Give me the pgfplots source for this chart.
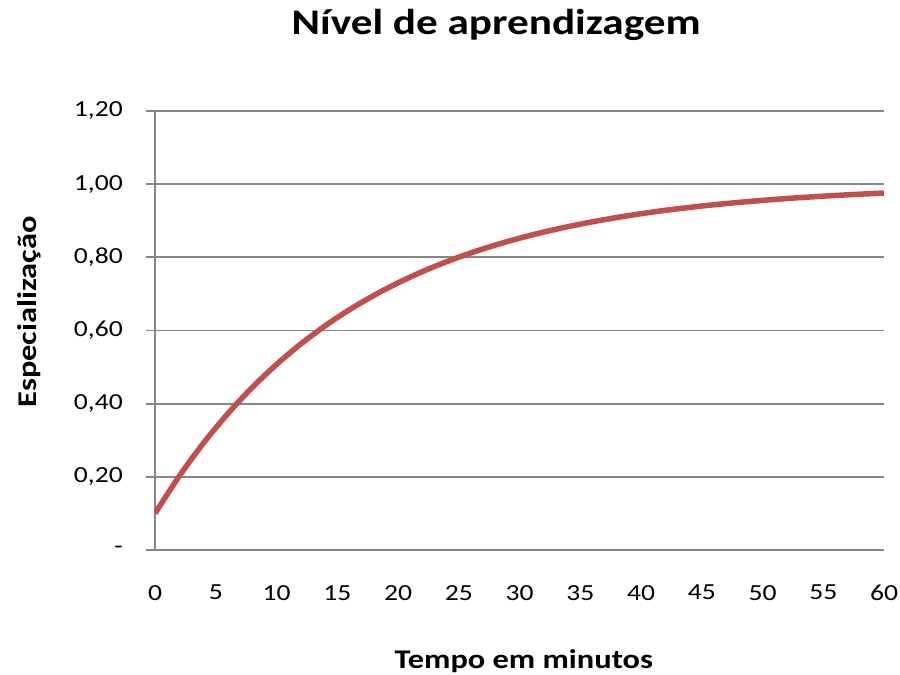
\documentclass[border=0pt]{standalone}
\usepackage{pgfplots}
\pgfplotsset{compat=1.18}
\usepackage{fontspec}
\setmainfont{Carlito}
\newfontfamily\widefont[FakeStretch=1.2]{Carlito}
\definecolor{linered}{HTML}{C0504D}
\definecolor{axgray}{HTML}{868686}
\begin{document}
\begin{tikzpicture}
\useasboundingbox (-155pt,-125pt) rectangle (745pt,550pt);
\begin{axis}[
  at={(0pt,0pt)}, anchor=south west,
  scale only axis, width=729pt, height=439pt,
  xmin=0, xmax=60, ymin=0, ymax=1.2,
  axis x line*=bottom, axis y line*=left,
  axis line style={axgray, line width=1.8pt, -},
  xtick={0,5,...,60},
  xticklabels={0,5,10,15,20,25,30,35,40,45,50,55,60},
  ytick={0,0.2,0.4,0.6,0.8,1.0,1.2},
  yticklabels={{-\hspace{17pt}},{0,20},{0,40},{0,60},{0,80},{1,00},{1,20}},
  /pgf/number format/assume math mode=true,
  x tick style={draw=none},
  y tick style={axgray, line width=1.8pt},
  tick align=outside, major tick length=9pt,
  ymajorgrids, grid style={axgray, line width=1.8pt},
  ticklabel style={font=\widefont\fontsize{23}{23}\selectfont, text=black},
  yticklabel style={inner sep=0pt, xshift=-23pt},
  xticklabel style={inner sep=0pt, anchor=north, yshift=-26pt},
  title={Nível de aprendizagem},
  title style={at={(0.468,1.1617)}, anchor=base, font=\widefont\fontsize{36}{36}\selectfont\bfseries},
  xlabel={Tempo em minutos},
  xlabel style={at={(0.506,-0.271)}, anchor=base, font=\widefont\fontsize{27}{27}\selectfont\bfseries},
  ylabel={Especialização},
  ylabel style={at={(-0.163,0.542)}, anchor=base, font=\widefont\fontsize{27}{27}\selectfont\bfseries},
]
\addplot[linered, line width=5.5pt, smooth] coordinates {
(0,0.1000) (2,0.2021) (4,0.2927) (6,0.3730) (8,0.4442) (10,0.5072)
(12,0.5632) (14,0.6127) (16,0.6567) (18,0.6957) (20,0.7302) (22,0.7609)
(24,0.7880) (26,0.8121) (28,0.8334) (30,0.8523) (32,0.8691) (34,0.8839)
(36,0.8971) (38,0.9088) (40,0.9192) (42,0.9284) (44,0.9365) (46,0.9437)
(48,0.9500) (50,0.9557) (52,0.9608) (54,0.9652) (56,0.9691) (58,0.9726)
(60,0.9758)
};
\end{axis}
\end{tikzpicture}
\end{document}
